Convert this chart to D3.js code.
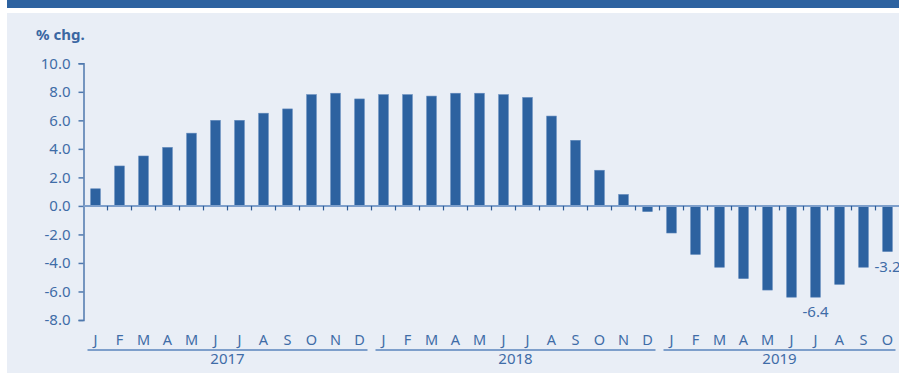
<!DOCTYPE html>
<html><head><meta charset="utf-8">
<script src="https://cdn.jsdelivr.net/npm/d3@7"></script>
<style>html,body{margin:0;padding:0;background:#fff;overflow:hidden}svg{display:block}</style>
</head><body>
<script>
const months = ["J","F","M","A","M","J","J","A","S","O","N","D",
                "J","F","M","A","M","J","J","A","S","O","N","D",
                "J","F","M","A","M","J","J","A","S","O"];
const years = ["2017","2018","2019"];
const yearMonthCounts = [12,12,10];
const values = [1.2,2.8,3.5,4.1,5.1,6.0,6.0,6.5,6.8,7.8,7.9,7.5,
                7.8,7.8,7.7,7.9,7.9,7.8,7.6,6.3,4.6,2.5,0.8,-0.4,
                -1.9,-3.4,-4.3,-5.1,-5.9,-6.4,-6.4,-5.5,-4.3,-3.2];
const yTicks = [10,8,6,4,2,0,-2,-4,-6,-8];
const labelled = [30,33];
const yAxisTitle = "% chg.";

const W=899,H=373;
const barColor="#2d62a0", textColor="#3f6ca7", lineColor="#7e9fcb", bg="#e9eef6";
const fmt=v=>v.toFixed(1);
const svg=d3.select("body").append("svg").attr("width",W).attr("height",H);
svg.append("rect").attr("x",7).attr("y",0).attr("width",W-7).attr("height",8).attr("fill",barColor);
svg.append("rect").attr("x",7).attr("y",13).attr("width",W-7).attr("height",H-13).attr("fill",bg);

const idx=d3.range(values.length);
const x=d3.scaleBand().domain(idx).range([83.5,899.5]).paddingInner(0.6).paddingOuter(0.3);
const y=d3.scaleLinear().domain([-8,10]).range([320,63.3]);
const font="'Noto Sans', sans-serif";

// y axis
const ya=svg.append("g").attr("transform","translate(83.5,0)")
  .call(d3.axisLeft(y).tickValues(yTicks).tickFormat(fmt).tickSize(5).tickPadding(8));
ya.select(".domain").attr("stroke","#4f78ad").attr("stroke-width",1.5);
ya.selectAll(".tick line").attr("stroke","#4f78ad").attr("stroke-width",1.5);
ya.selectAll(".tick text").attr("fill",textColor).attr("font-family",font).attr("font-size",15);

svg.append("text").attr("x",36).attr("y",40).text(yAxisTitle)
  .attr("fill","#3a67a2").attr("font-family",font).attr("font-weight","bold").attr("font-size",15);

// bars
svg.append("g").selectAll("rect").data(idx).join("rect")
  .attr("x",i=>x(i)).attr("width",x.bandwidth())
  .attr("y",i=>y(Math.max(0,values[i]))).attr("height",i=>Math.abs(y(values[i])-y(0)))
  .attr("fill",barColor).attr("stroke","#5d86ba").attr("stroke-width",0.6);

// zero line
svg.append("line").attr("x1",83.5).attr("x2",W).attr("y1",y(0)).attr("y2",y(0))
  .attr("stroke",lineColor).attr("stroke-width",2);
// ticks at band boundaries
const step=x.step();
svg.append("g").selectAll("line").data(d3.range(1,values.length)).join("line")
  .attr("x1",i=>x(i)-step*x.paddingInner()/2).attr("x2",i=>x(i)-step*x.paddingInner()/2)
  .attr("y1",y(0)).attr("y2",y(0)+4.5).attr("stroke","#2d5a94").attr("stroke-width",1.2);

// month labels
svg.append("g").selectAll("text").data(idx).join("text")
  .attr("x",i=>x(i)+x.bandwidth()/2).attr("y",345).attr("text-anchor","middle")
  .text(i=>months[i]).attr("fill",textColor).attr("font-family",font).attr("font-size",14.5);

// year groups
let start=0;
years.forEach((yr,k)=>{
  const n=yearMonthCounts[k];
  const x0=x(start)-step*x.paddingInner()/2+4;
  const x1=x(start+n-1)+x.bandwidth()+step*x.paddingInner()/2-4;
  svg.append("line").attr("x1",x0).attr("x2",x1).attr("y1",350).attr("y2",350)
    .attr("stroke",lineColor).attr("stroke-width",2);
  const c=(x(start)+x(start+n-1)+x.bandwidth())/2;
  svg.append("text").attr("x",c).attr("y",364).attr("text-anchor","middle").text(yr)
    .attr("fill",textColor).attr("font-family",font).attr("font-size",15);
  start+=n;
});

// value labels
svg.append("g").selectAll("text").data(labelled).join("text")
  .attr("x",i=>x(i)+x.bandwidth()/2).attr("y",i=>y(values[i])+20).attr("text-anchor","middle")
  .text(i=>fmt(values[i])).attr("fill",textColor).attr("font-family",font).attr("font-size",15);
</script>
</body></html>
